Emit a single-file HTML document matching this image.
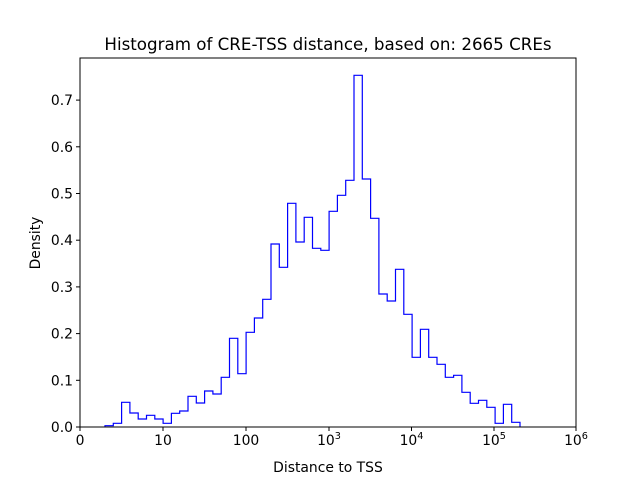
<!DOCTYPE html>
<html><head><meta charset="utf-8"><style>
html,body{margin:0;padding:0;background:#fff;}
svg{display:block;font-family:"DejaVu Sans","Liberation Sans",sans-serif;}
</style></head><body>
<svg width="640" height="480" viewBox="0 0 640 480" xmlns="http://www.w3.org/2000/svg">
<rect width="640" height="480" fill="#fff"/>
<path fill="none" stroke="#0000ff" stroke-width="1.2" d="M105,427 V425.7 H113.3 V423.3 H121.6 V402.3 H129.9 V413 H138.2 V419 H146.5 V415.3 H154.8 V419 H163.1 V423.3 H171.4 V413.3 H179.7 V411 H188 V396.3 H196.3 V403 H204.6 V391 H212.9 V394 H221.2 V377.3 H229.5 V338.3 H237.8 V373.7 H246.1 V332.3 H254.4 V318 H262.7 V299.3 H271 V244 H279.3 V267.3 H287.6 V203.3 H295.9 V242 H304.2 V217.3 H312.5 V248.3 H320.8 V250.3 H329.1 V211.3 H337.4 V195.3 H345.7 V180.3 H354 V75.3 H362.3 V179 H370.6 V218.3 H378.9 V294 H387.2 V301 H395.5 V269.3 H403.8 V314.3 H412.1 V357.3 H420.4 V329.3 H428.7 V357.3 H437 V364.3 H445.3 V377.3 H453.6 V375.3 H461.9 V392.3 H470.2 V403.3 H478.5 V400.3 H486.8 V407.3 H495.1 V423.3 H503.4 V404.3 H511.7 V422.3 H520 V427"/>
<rect x="80" y="58" width="496" height="369" fill="none" stroke="#000" stroke-width="1"/>
<g stroke="#000" stroke-width="1">
<line x1="80" y1="427" x2="80" y2="431"/><line x1="163" y1="427" x2="163" y2="431"/><line x1="246" y1="427" x2="246" y2="431"/><line x1="329" y1="427" x2="329" y2="431"/><line x1="411.5" y1="427" x2="411.5" y2="431"/><line x1="494" y1="427" x2="494" y2="431"/><line x1="576" y1="427" x2="576" y2="431"/>
<line x1="76" y1="427" x2="80" y2="427"/><line x1="76" y1="380.3" x2="80" y2="380.3"/><line x1="76" y1="333.6" x2="80" y2="333.6"/><line x1="76" y1="286.9" x2="80" y2="286.9"/><line x1="76" y1="240.2" x2="80" y2="240.2"/><line x1="76" y1="193.5" x2="80" y2="193.5"/><line x1="76" y1="146.8" x2="80" y2="146.8"/><line x1="76" y1="100.1" x2="80" y2="100.1"/>
</g>
<g font-size="13.9" fill="#000" text-anchor="middle">
<text x="80" y="445">0</text><text x="163" y="445">10</text><text x="246" y="445">100</text>
<text x="329" y="445">10<tspan font-size="9.7" dy="-6">3</tspan></text>
<text x="411.5" y="445">10<tspan font-size="9.7" dy="-6">4</tspan></text>
<text x="494" y="445">10<tspan font-size="9.7" dy="-6">5</tspan></text>
<text x="576" y="445">10<tspan font-size="9.7" dy="-6">6</tspan></text>
</g>
<g font-size="13.9" fill="#000" text-anchor="end">
<text x="73" y="432">0.0</text><text x="73" y="385.3">0.1</text><text x="73" y="338.6">0.2</text><text x="73" y="291.9">0.3</text><text x="73" y="245.2">0.4</text><text x="73" y="198.5">0.5</text><text x="73" y="151.8">0.6</text><text x="73" y="105.1">0.7</text>
</g>
<text x="328" y="472" font-size="13.9" text-anchor="middle">Distance to TSS</text>
<text x="0" y="0" font-size="13.9" text-anchor="middle" transform="translate(40,243) rotate(-90)">Density</text>
<text x="328" y="50" font-size="16.7" text-anchor="middle">Histogram of CRE-TSS distance, based on: 2665 CREs</text>
</svg>
</body></html>
